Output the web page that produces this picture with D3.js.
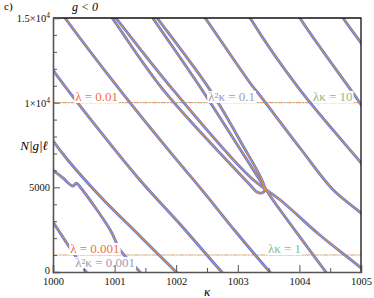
<!DOCTYPE html>
<html>
<head>
<meta charset="utf-8">
<script src="https://cdn.jsdelivr.net/npm/d3@7"></script>
<style>
body { margin: 0; background: #fff; }
svg text { font-family: "Liberation Serif", "DejaVu Serif", serif; }
</style>
</head>
<body>
<script>
// axis ticks
var kappaTicks = [1000, 1001, 1002, 1003, 1004, 1005];
var kappaMinor = [1000.5, 1001.5, 1002.5, 1003.5, 1004.5];
var yTicks = [0, 5000, 10000, 15000];
var yTickLabels = [["0", ""], ["5000", ""], ["1\u00d710", "4"], ["1.5\u00d710", "4"]];
var yMinor = [1000, 2000, 3000, 4000, 6000, 7000, 8000, 9000, 11000, 12000, 13000, 14000];

// reference lines (N|g|l values) and their labels
var refLevels = [10000, 1000];
var refLabels = [
  {text: "\u03bb = 0.01", k: 1000.36, v: 10100, color: "#f37048"},
  {text: "\u03bb\u00b2\u03ba = 0.1", k: 1002.52, v: 10100, color: "#a19db6"},
  {text: "\u03bb\u03ba = 10", k: 1004.22, v: 10100, color: "#8dbb8d"},
  {text: "\u03bb = 0.001", k: 1000.28, v: 1120, color: "#f37048"},
  {text: "\u03bb\u00b2\u03ba = 0.001", k: 1000.36, v: 290, color: "#a19db6"},
  {text: "\u03bb\u03ba = 1", k: 1003.49, v: 1120, color: "#8dbb8d"}
];

// solution branches [kappa, N|g|l]
var branch1 = [[999.95, 3220], [1000, 2950], [1000.27, 1450], [1000.54, 0], [1000.58, -250]];
var branch2 = [[999.95, 6300], [1000, 6025], [1000.16, 5560], [1000.32, 5080], [1000.38, 5240], [1000.44, 5020], [1000.93, 2480], [1001.09, 1300], [1001.41, 0], [1001.45, -200]];
var branch3 = [[999.95, 8020], [1000, 7740], [1000.24, 6615], [1000.76, 4490], [1001.41, 2126], [1002, 0], [1002.05, -180]];
var branch4 = [[999.9, 12520], [1000, 11930], [1000.76, 8330], [1001.41, 5434], [1002.06, 2835], [1002.74, 0], [1002.8, -220]];
var branch5 = [[1000, 16000], [1000.195, 15000], [1001.06, 10870], [1001.9, 7090], [1002.42, 4840], [1002.97, 2362], [1003.52, 0], [1003.57, -200]];
var branch6 = [[1002.27, 16000], [1002.47, 15000], [1003.2, 11160], [1003.39, 10280], [1004.01, 7323], [1004.55, 4840], [1005, 3485], [1005.05, 3300]];
var branch7 = [[1003.05, 16000], [1003.2, 15000], [1004.01, 10750], [1005, 6440], [1005.05, 6200]];
var branch8 = [[1003.87, 16000], [1004.01, 15000], [1004.95, 10160], [1005.05, 9600]];
var branch9 = [[1004.55, 16000], [1004.71, 15000], [1005, 13525], [1005.05, 13250]];
var branch10 = [[1000.8, 16000], [1001.02, 15000], [1001.95, 10750], [1003.2, 5610], [1003.69, 4250], [1004.33, 2185], [1005, 236], [1005.05, 50]];
var branch11 = [[1000.76, 16000], [1000.96, 15000], [1001.79, 10750], [1003.2, 5138], [1003.31, 4725], [1003.39, 4665], [1003.44, 4900], [1003.04, 7737], [1002.55, 10750], [1001.69, 15000], [1001.48, 16000]];
var branch12 = [[1001.44, 16000], [1001.62, 15000], [1002.42, 10750], [1003.44, 4960], [1003.57, 4250], [1004.14, 1417], [1004.43, 0], [1004.47, -200]];
var branches = [branch1, branch2, branch3, branch4, branch5, branch6, branch7, branch8, branch9, branch10, branch11, branch12];

var width = 374, height = 298;
var plotL = 53, plotR = 361, plotT = 18, plotB = 272;

var x = d3.scaleLinear().domain([1000, 1005]).range([plotL, plotR]);
var y = d3.scaleLinear().domain([0, 15000]).range([plotB, plotT]);

var svg = d3.select("body").append("svg")
  .attr("width", width)
  .attr("height", height);

svg.append("clipPath").attr("id", "plotclip")
  .append("rect")
  .attr("x", plotL).attr("y", plotT)
  .attr("width", plotR - plotL).attr("height", plotB - plotT);

// dashed reference lines
refLevels.forEach(function(v) {
  svg.append("line")
    .attr("x1", x(1000)).attr("x2", x(1005))
    .attr("y1", y(v)).attr("y2", y(v))
    .attr("stroke", "#f59a70").attr("stroke-width", 1.1)
    .attr("stroke-dasharray", "5,4");
  svg.append("line")
    .attr("x1", x(1000)).attr("x2", x(1005))
    .attr("y1", y(v)).attr("y2", y(v))
    .attr("stroke", "#9cc79c").attr("stroke-width", 1.1)
    .attr("stroke-dasharray", "3,6")
    .attr("stroke-dashoffset", -5.5);
});

// branches: blue outline with orange core
var line = d3.line()
  .x(function(d) { return x(d[0]); })
  .y(function(d) { return y(d[1]); })
  .curve(d3.curveCatmullRom.alpha(0.5));

var curves = svg.append("g").attr("clip-path", "url(#plotclip)");
curves.selectAll(".outer")
  .data(branches)
  .enter().append("path")
  .attr("class", "outer")
  .attr("d", line)
  .attr("fill", "none")
  .attr("stroke", "#5f79ee")
  .attr("stroke-width", 2.8);
curves.selectAll(".inner")
  .data(branches)
  .enter().append("path")
  .attr("class", "inner")
  .attr("d", line)
  .attr("fill", "none")
  .attr("stroke", "#d8923f")
  .attr("stroke-width", 1.1);

// labels with white box behind
refLabels.forEach(function(l) {
  var g = svg.append("g");
  var t = g.append("text")
    .attr("x", x(l.k)).attr("y", y(l.v))
    .attr("font-size", "13px")
    .attr("fill", l.color)
    .text(l.text);
  var b = t.node().getBBox();
  g.insert("rect", "text")
    .attr("x", b.x - 1).attr("y", b.y + 2)
    .attr("width", b.width + 2).attr("height", b.height - 3)
    .attr("fill", "#fff");
});

// frame top and right
svg.append("path")
  .attr("d", "M" + plotL + "," + plotT + "H" + plotR + "V" + plotB)
  .attr("fill", "none")
  .attr("stroke", "#111")
  .attr("stroke-width", 1.3);

// y axis
var yAxis = svg.append("g")
  .attr("transform", "translate(" + plotL + ",0)")
  .call(d3.axisLeft(y).tickValues(yTicks).tickSize(-7).tickPadding(3));
svg.append("g")
  .attr("transform", "translate(" + plotL + ",0)")
  .call(d3.axisLeft(y).tickValues(yMinor).tickSize(-4).tickFormat(""))
  .select(".domain").remove();
yAxis.selectAll(".tick text")
  .attr("font-size", "10.5px")
  .attr("fill", "#111")
  .attr("dy", function(d) { return d === 0 ? "0.1em" : "0.32em"; })
  .each(function(d) {
    var lab = yTickLabels[yTicks.indexOf(d)];
    var t = d3.select(this).text(lab[0]);
    if (lab[1]) {
      t.append("tspan").attr("dy", "-0.5em").attr("font-size", "7.5px").text(lab[1]);
    }
  });

// x axis
var xAxis = svg.append("g")
  .attr("transform", "translate(0," + plotB + ")")
  .call(d3.axisBottom(x).tickValues(kappaTicks).tickSize(-7).tickPadding(6).tickFormat(d3.format("d")));
svg.append("g")
  .attr("transform", "translate(0," + plotB + ")")
  .call(d3.axisBottom(x).tickValues(kappaMinor).tickSize(-4).tickFormat(""))
  .select(".domain").remove();
xAxis.selectAll(".tick text").attr("font-size", "10.5px").attr("fill", "#111");

svg.selectAll(".domain").attr("stroke", "#555").attr("stroke-width", 1.6);
svg.selectAll(".tick line").attr("stroke", "#555");

// titles
svg.append("text")
  .attr("x", 48).attr("y", 150)
  .attr("text-anchor", "end")
  .attr("font-size", "13px")
  .attr("font-style", "italic")
  .text("N|g|\u2113");
svg.append("text")
  .attr("x", 207).attr("y", 296)
  .attr("text-anchor", "middle")
  .attr("font-size", "13px")
  .attr("font-style", "italic")
  .text("\u03ba");
svg.append("text")
  .attr("x", 4).attr("y", 10)
  .attr("font-size", "11px")
  .text("c)");
svg.append("text")
  .attr("x", 72).attr("y", 11)
  .attr("font-size", "12px")
  .attr("font-style", "italic")
  .text("g < 0");
</script>
</body>
</html>
